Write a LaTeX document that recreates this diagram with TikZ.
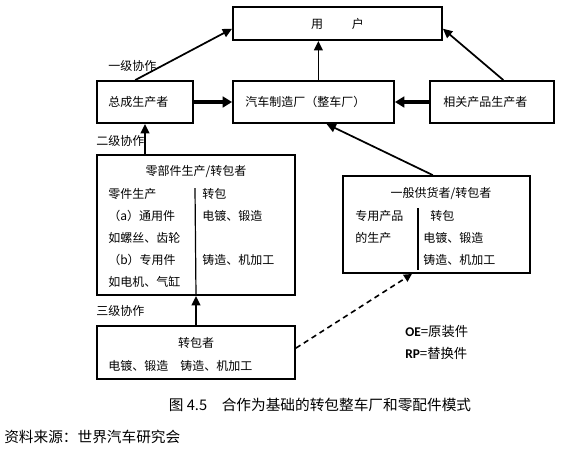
\documentclass[tikz,border=0pt]{standalone}
\usepackage{fontspec}
\usepackage{tikz}
\usetikzlibrary{arrows.meta,positioning,calc,fit}
\newfontfamily\cjk{Noto Sans CJK SC}
\newfontfamily\latf{Carlito}
\definecolor{cLine}{HTML}{000000}
\tikzset{
  boxy/.style={draw=cLine,line width=1.4pt,inner sep=0pt},
  sepline/.style={draw=cLine,line width=0.9pt},
  txt/.style={font=\cjk\fontsize{9}{11}\selectfont,inner sep=0pt,anchor=west},
  ctxt/.style={font=\cjk\fontsize{9}{11}\selectfont,inner sep=0pt},
  captxt/.style={font=\cjk\fontsize{11}{13}\selectfont,inner sep=0pt},
  legtxt/.style={font=\cjk\fontsize{10}{12}\selectfont,inner sep=0pt,anchor=west},
  arr/.style={-{Triangle[length=7pt,width=6.5pt]},line width=1.3pt,draw=cLine},
  fatarr/.style={-{Triangle[length=7pt,width=8pt]},line width=3pt,draw=cLine},
  dasharr/.style={-{Triangle[length=6pt,width=6pt]},line width=1.2pt,draw=cLine,
      dash pattern=on 4pt off 3pt},
}
\newcommand{\lbl}[3]{\node[txt] at (#1,#2) {#3};}

\begin{document}
\begin{tikzpicture}[x=0.75pt,y=-0.75pt]
  \useasboundingbox (0,0) rectangle (561,451);

  % boxes
  \node[boxy,fit={(233,7)(442,40)}] (yh) {};
  \node[boxy,fit={(97,81)(193,123)}] (zc) {};
  \node[boxy,fit={(233,81)(394,123)}] (qc) {};
  \node[boxy,fit={(430,81)(554,123)}] (xg) {};
  \node[boxy,fit={(97,155)(295,295)}] (lbj) {};
  \node[boxy,fit={(343,176)(530,273)}] (ybg) {};
  \node[boxy,fit={(97,326)(295,379)}] (zb) {};

  \node[ctxt] (yhT) at (yh) {用\hspace{2.4em}户};
  \lbl{108}{102}{总成生产者}
  \lbl{245}{102}{汽车制造厂（整车厂）}
  \lbl{443}{102}{相关产品生产者}

  % second tier
  \node[ctxt] (lbjT) at (196,171) {零部件生产/转包者};
  \draw[sepline] (195,188) -- (lbj.south);
  \lbl{108}{194}{零件生产}
  \lbl{108}{216}{（a）通用件}
  \lbl{108}{238}{如螺丝、齿轮}
  \lbl{108}{260}{（b）专用件}
  \lbl{108}{282}{如电机、气缸}
  \lbl{202}{194}{转包}
  \lbl{202}{216}{电镀、锻造}
  \lbl{202}{260}{铸造、机加工}

  \node[ctxt] (ybgT) at (441,193) {一般供货者/转包者};
  \draw[sepline] (418,208) -- (418,270);
  \lbl{355}{216}{专用产品}
  \lbl{355}{238}{的生产}
  \lbl{430}{216}{转包}
  \lbl{423}{238}{电镀、锻造}
  \lbl{423}{260}{铸造、机加工}

  % third tier
  \node[ctxt] (zbT) at (196,343) {转包者};
  \lbl{108}{366}{电镀、锻造\hspace{1em}铸造、机加工}

  % tier labels
  \lbl{108}{66}{一级协作}
  \lbl{96}{141}{二级协作}
  \lbl{96}{311}{三级协作}

  % arrows
  \draw[arr] ($(zc.north west)!0.4!(zc.north east)$)
    -- ($(yh.north west)!0.65!(yh.south west)$);
  \coordinate (qcTop) at ($(qc.north west)!0.53!(qc.north east)$);
  \draw[arr] (qcTop) -- (qcTop |- yh.south);
  \draw[arr] ($(xg.north west)!0.59!(xg.north east)$)
    -- ($(yh.north east)!0.65!(yh.south east)$);
  \draw[fatarr] (zc.east) -- (qc.west);
  \draw[fatarr] (xg.west) -- (qc.east);
  \draw[arr] (lbj.north -| zc.south) -- (zc.south);
  \draw[arr] ($(ybg.north west)!0.48!(ybg.north east)$)
    -- ($(qc.south west)!0.58!(qc.south east)$);
  \draw[arr] (zb.north) -- (lbj.south);
  \draw[dasharr] ($(zb.north east)!0.42!(zb.south east)$)
    -- ($(ybg.south west)!0.37!(ybg.south east)$);

  % legend
  \node[legtxt] (oe) at (405,331) {{\latf\bfseries OE}=原装件};
  \node[legtxt] (rp) at (405,353) {{\latf\bfseries RP}=替换件};

  % caption
  \node[captxt] (cap) at (320,405) {图 4.5\hspace{1em}合作为基础的转包整车厂和零配件模式};
  \node[captxt,anchor=west] (src) at (4,437) {资料来源：世界汽车研究会};
\end{tikzpicture}
\end{document}
